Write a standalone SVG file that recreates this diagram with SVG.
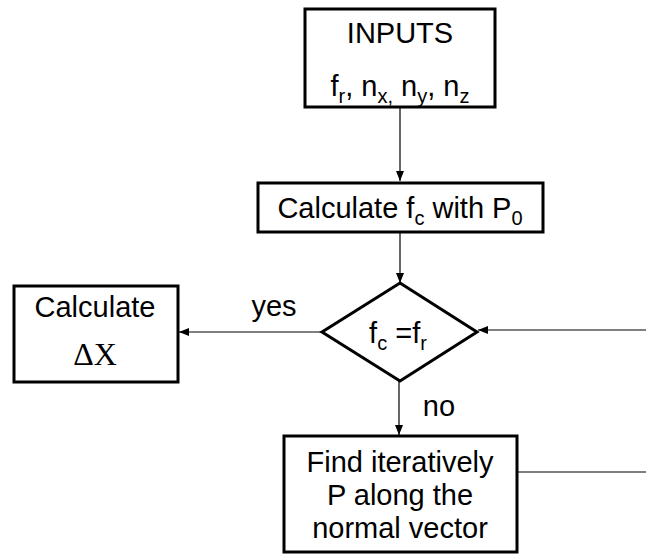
<svg xmlns="http://www.w3.org/2000/svg" width="646" height="554" viewBox="0 0 646 554">
<defs>
<marker id="ah" viewBox="0 0 10 10" refX="10" refY="5" markerWidth="10" markerHeight="10" markerUnits="userSpaceOnUse" orient="auto">
<path d="M0,1 L10,5 L0,9 Z" fill="#000"/>
</marker>
<style>
.box{fill:#fff;stroke:#000;stroke-width:3}
.t{font-family:"Liberation Sans",Arial,sans-serif;font-size:29px;fill:#000;text-anchor:middle}
.s{font-size:20px}
.c{fill:none;stroke:#000;stroke-width:1.2}
</style>
</defs>
<g id="connectors">
<line class="c" x1="400" y1="108" x2="400" y2="181" marker-end="url(#ah)"/>
<line class="c" x1="400" y1="233" x2="400" y2="283" marker-end="url(#ah)"/>
<line class="c" x1="322" y1="332" x2="179" y2="332" marker-end="url(#ah)"/>
<line class="c" x1="646" y1="330" x2="478" y2="330" marker-end="url(#ah)"/>
<line class="c" x1="399" y1="381" x2="399" y2="435" marker-end="url(#ah)"/>
<line class="c" x1="517" y1="472" x2="646" y2="472"/>
<text class="t" x="274" y="316">yes</text>
<text class="t" x="439" y="416">no</text>
</g>
<g id="inputs">
<rect class="box" x="305" y="9" width="190" height="98"/>
<text class="t" x="400" y="43">INPUTS</text>
<text class="t" x="400" y="96">f<tspan class="s" dy="7">r</tspan><tspan dy="-7">, n</tspan><tspan class="s" dy="7">x,</tspan><tspan dy="-7"> n</tspan><tspan class="s" dy="7">y</tspan><tspan dy="-7">, n</tspan><tspan class="s" dy="7">z</tspan></text>
</g>
<g id="calc-fc">
<rect class="box" x="258" y="183" width="285" height="49"/>
<text class="t" x="400" y="218">Calculate f<tspan class="s" dy="7">c</tspan><tspan dy="-7"> with P</tspan><tspan class="s" dy="7">0</tspan></text>
</g>
<g id="decision">
<polygon class="box" points="400,283 477,332 400,381 322,332"/>
<text class="t" x="398" y="343">f<tspan class="s" dy="7">c</tspan><tspan dy="-7"> =f</tspan><tspan class="s" dy="7">r</tspan></text>
</g>
<g id="calc-dx">
<rect class="box" x="14" y="286" width="164" height="96"/>
<text class="t" x="95" y="317">Calculate</text>
<text class="t" x="95" y="365" style="font-family:'Liberation Serif','Times New Roman',serif;font-size:32px">ΔX</text>
</g>
<g id="find">
<rect class="box" x="284" y="436" width="233" height="116"/>
<text class="t" x="400" y="472">Find iteratively</text>
<text class="t" x="400" y="505">P along the</text>
<text class="t" x="400" y="538">normal vector</text>
</g>
</svg>
